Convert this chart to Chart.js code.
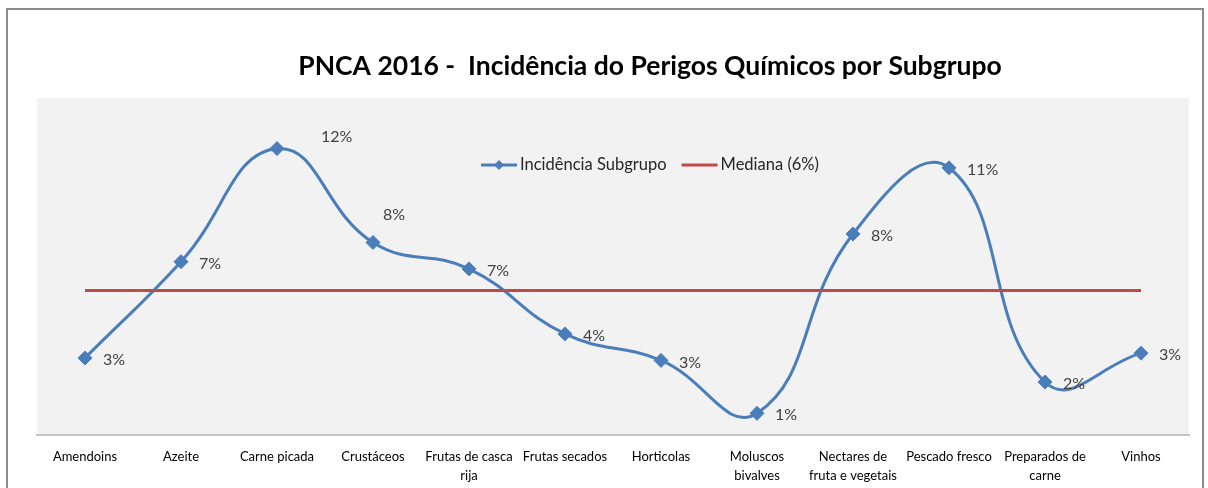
<!DOCTYPE html>
<html>
<head>
<meta charset="utf-8">
<script src="https://cdn.jsdelivr.net/npm/chart.js@4"></script>
<style>
  html, body { margin: 0; padding: 0; background: #fff; }
</style>
</head>
<body>
<canvas id="chart" width="1208" height="488"></canvas>
<script>
const categories = [
  "Amendoins", "Azeite", "Carne picada", "Crustáceos", ["Frutas de casca", "rija"],
  "Frutas secados", "Horticolas", ["Moluscos", "bivalves"], ["Nectares de", "fruta e vegetais"],
  "Pescado fresco", ["Preparados de", "carne"], "Vinhos",
];
const incidencia = [3.2, 7.2, 11.9, 8.0, 6.9, 4.2, 3.1, 0.9, 8.35, 11.1, 2.2, 3.4];
const mediana = [6, 6, 6, 6, 6, 6, 6, 6, 6, 6, 6, 6];
const seriesNames = ["Incidência Subgrupo", "Mediana (6%)"];
const titleText = "PNCA 2016 -  Incidência do Perigos Químicos por Subgrupo";

const FONT = "Lato, 'Open Sans', sans-serif";
const BLUE = "#4a7ebb";
const RED = "#be4b48";

// frame + plot background
const background = {
  id: "background",
  beforeDraw(chart) {
    const { ctx, chartArea: a } = chart;
    ctx.save();
    ctx.fillStyle = "#fff";
    ctx.fillRect(0, 0, chart.width, chart.height);
    ctx.strokeStyle = "#8c8c8c";
    ctx.lineWidth = 2;
    ctx.strokeRect(7, 9, 1196, 500);
    ctx.fillStyle = "#f2f2f2";
    ctx.fillRect(a.left, a.top, a.right - a.left, a.bottom - a.top);
    ctx.restore();
  },
};

const titleAndLegend = {
  id: "titleAndLegend",
  afterDraw(chart) {
    const { ctx } = chart;
    const cx = 650;
    ctx.save();
    ctx.fillStyle = "#000";
    ctx.font = "bold 26.5px " + FONT;
    ctx.textAlign = "center";
    ctx.textBaseline = "middle";
    ctx.fillText(titleText, cx, 66);

    // legend
    ctx.font = "16.5px " + FONT;
    ctx.textAlign = "left";
    const sets = chart.data.datasets;
    const lineW = 36, gapText = 3, gapItem = 15;
    const widths = sets.map((d) => lineW + gapText + ctx.measureText(d.label).width);
    const total = widths.reduce((s, w) => s + w, 0) + gapItem * (sets.length - 1);
    let x = cx - total / 2;
    const y = 165;
    sets.forEach((d, i) => {
      ctx.strokeStyle = d.borderColor;
      ctx.lineWidth = 3;
      ctx.beginPath();
      ctx.moveTo(x, y);
      ctx.lineTo(x + lineW, y);
      ctx.stroke();
      if (d.pointRadius > 0) {
        ctx.fillStyle = d.borderColor;
        ctx.beginPath();
        ctx.moveTo(x + lineW / 2 - 5, y);
        ctx.lineTo(x + lineW / 2, y - 5);
        ctx.lineTo(x + lineW / 2 + 5, y);
        ctx.lineTo(x + lineW / 2, y + 5);
        ctx.closePath();
        ctx.fill();
      }
      ctx.fillStyle = "#262626";
      ctx.fillText(d.label, x + lineW + gapText, y);
      x += widths[i] + gapItem;
    });
    ctx.restore();
  },
};

const valueLabels = {
  id: "valueLabels",
  afterDatasetsDraw(chart, args, opts) {
    const { ctx } = chart;
    const meta = chart.getDatasetMeta(0);
    const values = chart.data.datasets[0].data;
    ctx.save();
    ctx.font = "16px " + FONT;
    ctx.fillStyle = "#404040";
    ctx.textAlign = "left";
    ctx.textBaseline = "middle";
    meta.data.forEach((pt, i) => {
      const [dx, dy] = opts.shift[i] || [18, 2];
      ctx.fillText(Math.round(values[i]) + "%", pt.x + dx, pt.y + dy);
    });
    ctx.restore();
  },
};

new Chart(document.getElementById("chart"), {
  type: "line",
  data: {
    labels: categories,
    datasets: [
      {
        label: seriesNames[0],
        data: incidencia,
        borderColor: BLUE,
        backgroundColor: BLUE,
        borderWidth: 3,
        tension: 0.45,
        pointStyle: "rectRot",
        pointRadius: 7,
        pointBorderWidth: 1,
        order: 1,
      },
      {
        label: seriesNames[1],
        data: mediana,
        borderColor: RED,
        backgroundColor: RED,
        borderWidth: 3,
        pointRadius: 0,
        order: 0,
      },
    ],
  },
  options: {
    responsive: false,
    animation: false,
    layout: { padding: { top: 98, left: 37, right: 19, bottom: 0 } },
    scales: {
      x: {
        offset: true,
        grid: { display: false },
        border: { display: true, color: "#c4c4c4", width: 2 },
        ticks: {
          color: "#000",
          font: { family: FONT, size: 13, lineHeight: 1.5 },
          padding: 4,
          maxRotation: 0,
          autoSkip: false,
        },
        afterFit(scale) {
          scale.height = 53;
        },
      },
      y: { display: false, min: 0, max: 14 },
    },
    plugins: {
      legend: { display: false },
      tooltip: { enabled: false },
      valueLabels: { shift: { 2: [44, -12], 3: [10, -28] } },
    },
  },
  plugins: [background, titleAndLegend, valueLabels],
});
</script>
</body>
</html>
